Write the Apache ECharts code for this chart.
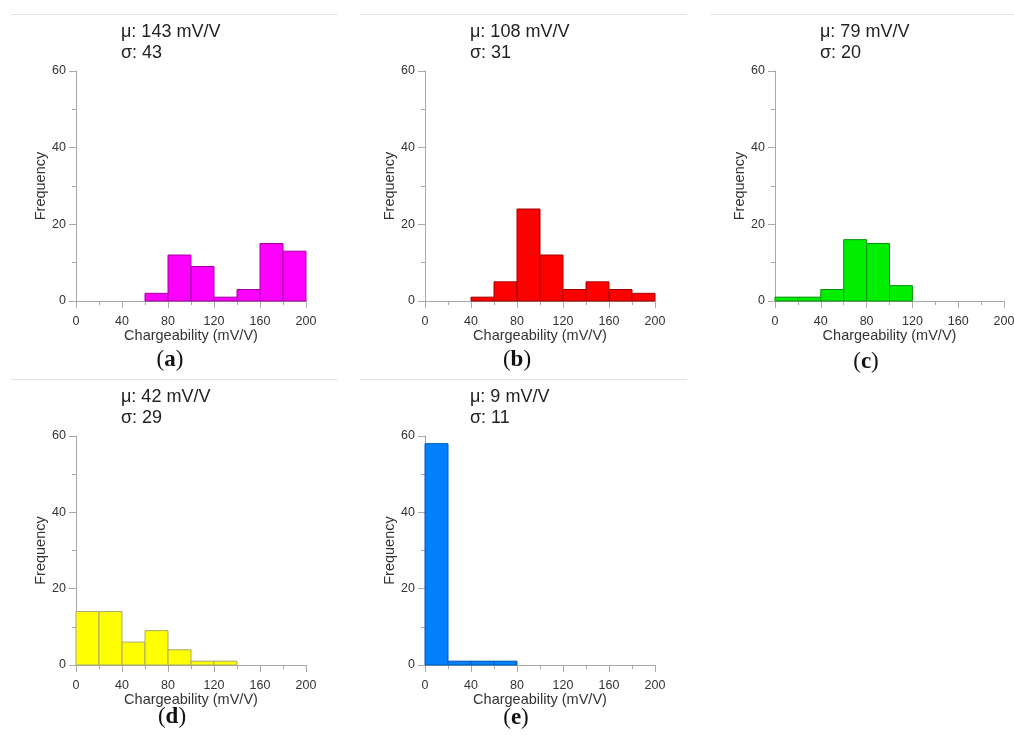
<!DOCTYPE html>
<html>
<head>
<meta charset="utf-8">
<script src="https://cdn.jsdelivr.net/npm/echarts@6/dist/echarts.min.js"></script>
<style>
  html, body { margin: 0; padding: 0; background: #fff; }
  #chart { width: 1014px; height: 740px; }
</style>
</head>
<body>
<div id="chart"></div>
<script>
// Histogram bin edges (mV/V) shared by every panel
const binEdges = [0, 20, 40, 60, 80, 100, 120, 140, 160, 180, 200];

// Frequency per bin for each panel
const countsA = [0, 0, 0, 2, 12, 9, 1, 3, 15, 13];
const countsB = [0, 0, 1, 5, 24, 12, 3, 5, 3, 2];
const countsC = [1, 1, 3, 16, 15, 4, 0, 0, 0, 0];
const countsD = [14, 14, 6, 9, 4, 1, 1, 0, 0, 0];
const countsE = [58, 1, 1, 1, 0, 0, 0, 0, 0, 0];

// Summary statistics printed above each histogram
const meanValues = [143, 108, 79, 42, 9];
const sigmaValues = [43, 31, 20, 29, 11];
const panelLetters = ['a', 'b', 'c', 'd', 'e'];

// Axis ranges / tick steps
const xRange = [0, 200], xStep = 40;
const yRange = [0, 60], yStep = 20;
const xName = 'Chargeability (mV/V)';
const yName = 'Frequency';

const allCounts = [countsA, countsB, countsC, countsD, countsE];
const fills = ['#ff00ff', '#ff0000', '#00ee00', '#ffff00', '#0080ff'];
const strokes = ['#a000a0', '#a00000', '#00900a', '#a8a870', '#0058b0'];

// Plot rectangles in pixels: left, top, width, height
const grids = [
  { left: 76,  top: 71,  width: 230, height: 230 },
  { left: 425, top: 71,  width: 230, height: 230 },
  { left: 775, top: 71,  width: 229, height: 230 },
  { left: 76,  top: 436, width: 230, height: 229 },
  { left: 425, top: 436, width: 230, height: 229 }
];
const panelLabelPos = [[170, 360], [517, 360], [866, 362], [172, 717], [516, 718]];

const SANS = '"Liberation Sans", Arial, Helvetica, sans-serif';
const AXIS_COLOR = '#a8a8a8';
const TEXT_COLOR = '#333';

function binData(counts) {
  return counts.map((c, i) => [binEdges[i], binEdges[i + 1], c]);
}

function makeRender(idx) {
  return function (params, api) {
    const c = api.value(2);
    if (!c) return null;
    const p0 = api.coord([api.value(0), 0]);
    const p1 = api.coord([api.value(1), c]);
    return {
      type: 'rect',
      shape: { x: p0[0], y: p1[1], width: p1[0] - p0[0], height: p0[1] - p1[1] },
      style: { fill: fills[idx], stroke: strokes[idx], lineWidth: 1 }
    };
  };
}

const gridOpts = [], xAxes = [], yAxes = [], series = [], graphics = [];

grids.forEach((g, i) => {
  gridOpts.push(Object.assign({ containLabel: false, outerBoundsMode: 'none' }, g));
  xAxes.push({
    type: 'value', gridIndex: i, min: xRange[0], max: xRange[1], interval: xStep,
    name: xName, nameLocation: 'middle', nameGap: 23,
    nameTextStyle: { fontFamily: SANS, fontSize: 14.5, color: TEXT_COLOR },
    axisLine: { show: true, lineStyle: { color: AXIS_COLOR, width: 1 } },
    axisTick: { show: true, length: 7, inside: false, lineStyle: { color: AXIS_COLOR } },
    minorTick: { show: true, splitNumber: 2, length: 4, lineStyle: { color: AXIS_COLOR } },
    axisLabel: { fontFamily: SANS, fontSize: 12.5, color: TEXT_COLOR, margin: 14 },
    splitLine: { show: false }
  });
  yAxes.push({
    type: 'value', gridIndex: i, min: yRange[0], max: yRange[1], interval: yStep,
    name: yName, nameLocation: 'middle', nameGap: 24,
    nameTextStyle: { fontFamily: SANS, fontSize: 14.5, color: TEXT_COLOR },
    axisLine: { show: true, lineStyle: { color: AXIS_COLOR, width: 1 } },
    axisTick: { show: true, length: 7, inside: false, lineStyle: { color: AXIS_COLOR } },
    minorTick: { show: true, splitNumber: 2, length: 4, lineStyle: { color: AXIS_COLOR } },
    axisLabel: { fontFamily: SANS, fontSize: 12.5, color: TEXT_COLOR, margin: 10 },
    splitLine: { show: false }
  });
  series.push({
    type: 'custom', xAxisIndex: i, yAxisIndex: i,
    renderItem: makeRender(i),
    encode: { x: [0, 1], y: 2 },
    data: binData(allCounts[i]),
    silent: true, animation: false
  });

  // statistics text above the plot
  graphics.push({
    type: 'text', x: g.left + 45, y: g.top - 50,
    style: {
      text: 'μ: ' + meanValues[i] + ' mV/V\nσ: ' + sigmaValues[i],
      font: '18px ' + SANS, fill: '#222', lineHeight: 21.5,
      verticalAlign: 'top', align: 'left'
    }
  });
  // panel letter below the plot
  graphics.push({
    type: 'text', x: panelLabelPos[i][0], y: panelLabelPos[i][1],
    style: {
      text: '{p|(}{b|' + panelLetters[i] + '}{p|)}',
      align: 'center', verticalAlign: 'middle',
      rich: {
        p: { fontFamily: '"Liberation Serif", "Times New Roman", serif', fontSize: 23, fill: '#111', fontWeight: 'normal' },
        b: { fontFamily: '"Liberation Serif", "Times New Roman", serif', fontSize: 23, fill: '#111', fontWeight: 'bold' }
      }
    }
  });
});

// thin separator rules heading each panel
const ruleSpans = [[11, 338, 14], [360, 687, 14], [710, 1014, 14], [11, 338, 379], [360, 687, 379]];
ruleSpans.forEach(r => {
  graphics.push({
    type: 'line', silent: true,
    shape: { x1: r[0], y1: r[2] + 0.5, x2: r[1], y2: r[2] + 0.5 },
    style: { stroke: '#e2e2e2', lineWidth: 1 }
  });
});

const chart = echarts.init(document.getElementById('chart'), null, { renderer: 'canvas' });
chart.setOption({
  animation: false,
  backgroundColor: '#ffffff',
  grid: gridOpts,
  xAxis: xAxes,
  yAxis: yAxes,
  series: series,
  graphic: graphics
});
</script>
</body>
</html>
